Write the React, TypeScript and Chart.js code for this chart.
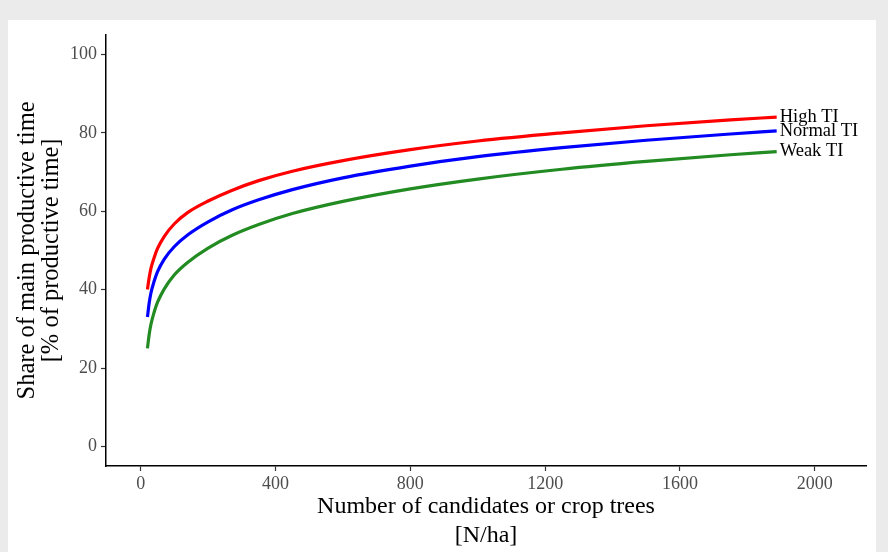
import React, { useEffect, useRef } from "react";
import { Chart, registerables } from "chart.js";

Chart.register(...registerables);

const xValues = [20, 25, 30, 40, 50, 70, 100, 140, 200, 270, 350, 450, 600, 800, 1000, 1250, 1500, 1750, 1887];
const highTI = [40.0, 43.0, 45.3, 48.2, 50.5, 53.6, 56.8, 59.7, 62.6, 65.3, 67.8, 70.2, 72.9, 75.7, 77.9, 80.0, 81.8, 83.3, 84.0];
const normalTI = [33.0, 36.5, 39.0, 42.2, 44.6, 47.8, 51.0, 54.0, 57.3, 60.3, 62.9, 65.5, 68.5, 71.5, 73.9, 76.2, 78.1, 79.7, 80.5];
const weakTI = [25.0, 28.5, 31.0, 34.3, 36.8, 40.2, 43.8, 47.0, 50.6, 53.8, 56.6, 59.4, 62.5, 65.7, 68.2, 70.7, 72.7, 74.4, 75.2];

const seriesLabels = ["High TI", "Normal TI", "Weak TI"];
const seriesColors = ["#ff0000", "#0000ff", "#228b22"];
const xTicks = [0, 400, 800, 1200, 1600, 2000];
const yTicks = [0, 20, 40, 60, 80, 100];
const xTitle = ["Number of candidates or crop trees", "[N/ha]"];
const yTitle = ["Share of main productive time", "[% of productive time]"];

const FONT = "'Liberation Serif', 'Times New Roman', serif";

const endLabels = {
  id: "endLabels",
  afterDatasetsDraw(chart: any) {
    const ctx = chart.ctx;
    ctx.save();
    ctx.font = `18.5px ${FONT}`;
    ctx.fillStyle = "#000000";
    ctx.textAlign = "left";
    ctx.textBaseline = "middle";
    chart.data.datasets.forEach((ds: any, i: number) => {
      const meta = chart.getDatasetMeta(i);
      const pt = meta.data[meta.data.length - 1];
      if (pt) ctx.fillText(ds.label, pt.x + 3, pt.y);
    });
    ctx.restore();
  },
};

export default function App() {
  const ref = useRef<HTMLCanvasElement | null>(null);

  useEffect(() => {
    document.body.style.margin = "0";
    document.body.style.background = "#ebebeb";
    if (!ref.current) return;
    const series = [highTI, normalTI, weakTI];
    const chart = new Chart(ref.current, {
      type: "line",
      data: {
        datasets: series.map((s, i) => ({
          label: seriesLabels[i],
          data: s.map((v, j) => ({ x: xValues[j], y: v })),
          borderColor: seriesColors[i],
          backgroundColor: seriesColors[i],
          borderWidth: 3.2,
          pointRadius: 0,
          fill: false,
          cubicInterpolationMode: "monotone" as const,
        })),
      },
      options: {
        responsive: false,
        animation: false,
        layout: { padding: { top: 9, right: 10, left: 0, bottom: 0 } },
        plugins: {
          legend: { display: false },
          tooltip: { enabled: false },
        },
        scales: {
          x: {
            type: "linear",
            min: -103,
            max: 2152,
            afterBuildTicks: (scale: any) => {
              scale.ticks = xTicks.map((v) => ({ value: v }));
            },
            afterFit: (scale: any) => {
              scale.height = 86;
            },
            grid: {
              drawOnChartArea: false,
              drawTicks: true,
              tickLength: 5,
              tickColor: "#333333",
              tickWidth: 1.2,
            },
            border: { display: true, color: "#000000", width: 1.5 },
            ticks: {
              color: "#4d4d4d",
              font: { family: FONT, size: 18 },
              padding: 2,
              maxRotation: 0,
              callback: (v: any) => String(v),
            },
            title: {
              display: true,
              text: xTitle,
              color: "#000000",
              font: { family: FONT, size: 24, lineHeight: "29px" as any },
              padding: { top: 0, bottom: 2 },
            },
          },
          y: {
            type: "linear",
            min: -5,
            max: 105,
            afterBuildTicks: (scale: any) => {
              scale.ticks = yTicks.map((v) => ({ value: v }));
            },
            afterFit: (scale: any) => {
              scale.width = 98;
            },
            grid: {
              drawOnChartArea: false,
              drawTicks: true,
              tickLength: 5,
              tickColor: "#333333",
              tickWidth: 1.2,
            },
            border: { display: true, color: "#000000", width: 1.5 },
            ticks: {
              color: "#4d4d4d",
              font: { family: FONT, size: 18 },
              padding: 4,
              callback: (v: any) => String(v),
            },
            title: {
              display: true,
              text: yTitle,
              color: "#000000",
              font: { family: FONT, size: 24.5, lineHeight: "24px" as any },
              padding: { top: 8, bottom: 0 },
            },
          },
        },
      },
      plugins: [endLabels],
    });
    return () => chart.destroy();
  }, []);

  return (
    <div style={{ position: "relative", width: 888, height: 552, background: "#ebebeb" }}>
      <div
        style={{
          position: "absolute",
          left: 8,
          top: 20,
          width: 868,
          height: 532,
          background: "#ffffff",
        }}
      >
        <canvas ref={ref} width={868} height={532} style={{ display: "block" }} />
      </div>
    </div>
  );
}
